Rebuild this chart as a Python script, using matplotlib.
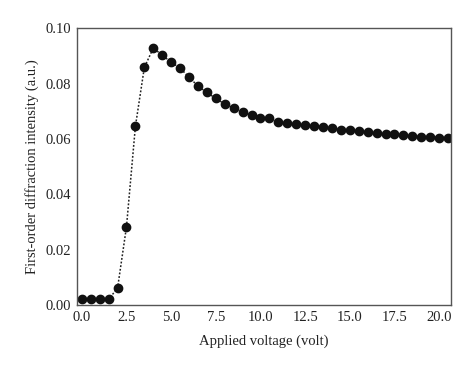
"""Recreate first-order diffraction intensity vs applied voltage plot."""

import matplotlib
matplotlib.use("Agg")
import matplotlib.pyplot as plt  # noqa: E402

plt.rcParams["font.family"] = ["Liberation Serif", "DejaVu Serif"]

# applied voltage (volt), 0.0 .. 20.5 in 0.5 steps
voltage = [
    0.0, 0.5, 1.0, 1.5, 2.0, 2.5, 3.0, 3.5, 4.0, 4.5,
    5.0, 5.5, 6.0, 6.5, 7.0, 7.5, 8.0, 8.5, 9.0, 9.5,
    10.0, 10.5, 11.0, 11.5, 12.0, 12.5, 13.0, 13.5, 14.0, 14.5,
    15.0, 15.5, 16.0, 16.5, 17.0, 17.5, 18.0, 18.5, 19.0, 19.5,
    20.0, 20.5,
]
# first-order diffraction intensity (a.u.)
intensity = [
    0.0021, 0.0021, 0.0021, 0.0021, 0.0060, 0.0282, 0.0645, 0.0858, 0.0928, 0.0903,
    0.0877, 0.0856, 0.0823, 0.0791, 0.0768, 0.0746, 0.0726, 0.0711, 0.0698, 0.0686,
    0.0675, 0.0674, 0.0662, 0.0656, 0.0653, 0.0649, 0.0646, 0.0644, 0.0639, 0.0633,
    0.0631, 0.0628, 0.0625, 0.0621, 0.0618, 0.0616, 0.0615, 0.0610, 0.0608, 0.0608,
    0.0605, 0.0605,
]
x_ticks = [0.0, 2.5, 5.0, 7.5, 10.0, 12.5, 15.0, 17.5, 20.0]
y_ticks = [0.00, 0.02, 0.04, 0.06, 0.08, 0.10]

fig = plt.figure(figsize=(4.74, 3.71), dpi=100)
ax = fig.add_axes([0.162, 0.178, 0.789, 0.746])

ax.plot(voltage, intensity, linestyle=(0, (1.2, 1.2)), color="#222222", linewidth=1.1,
        marker="o", markersize=6.0, markerfacecolor="#111111",
        markeredgecolor="#111111", clip_on=True)

ax.set_xlim(-0.28, 20.65)
ax.set_ylim(0.0, 0.10)
ax.set_xticks(x_ticks)
ax.set_xticklabels([f"{t:.1f}" for t in x_ticks])
ax.set_yticks(y_ticks)
ax.set_yticklabels([f"{t:.2f}" for t in y_ticks])
ax.tick_params(length=0, pad=4, labelsize=10.5, colors="#222222")

for side in ax.spines.values():
    side.set_color("#555555")
    side.set_linewidth(1.0)

ax.set_xlabel("Applied voltage (volt)", fontsize=10.5, color="#222222", labelpad=8)
ax.set_ylabel("First-order diffraction intensity (a.u.)", fontsize=10.5,
              color="#222222", labelpad=5)

fig.savefig("out.png", dpi=100)
plt.close(fig)
